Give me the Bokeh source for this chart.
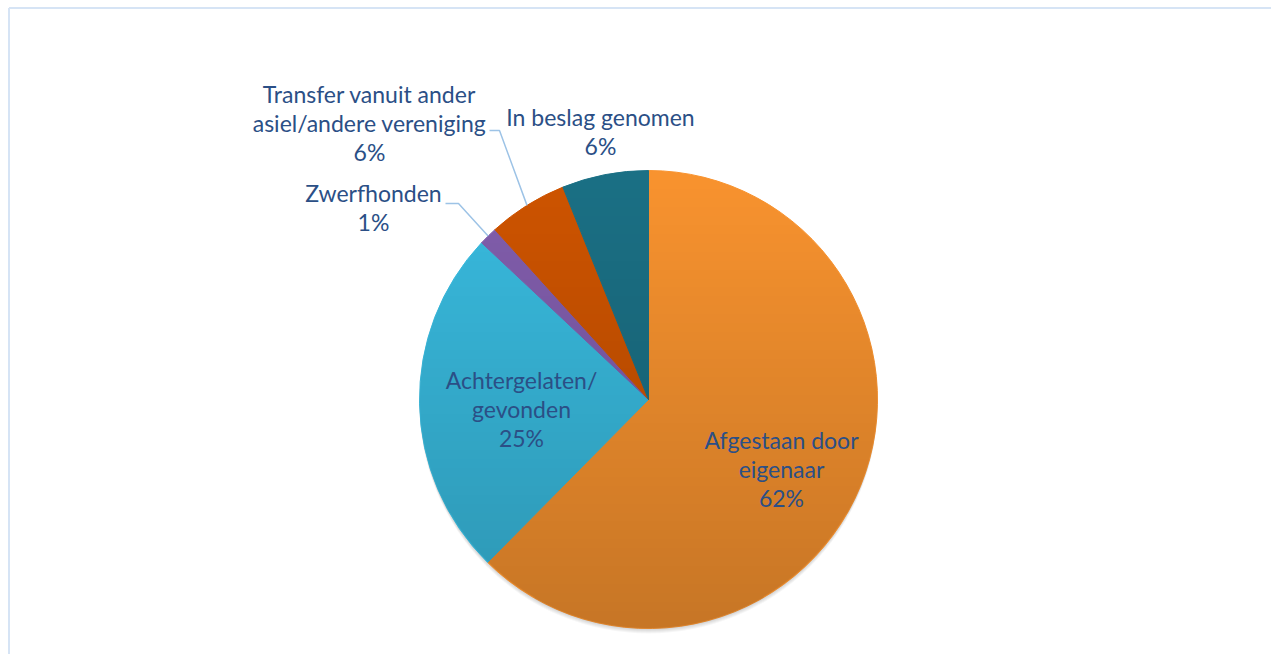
import numpy as np
from bokeh.plotting import figure
from bokeh.models import Range1d, ColumnDataSource
from bokeh.core.properties import value
from bokeh.embed import file_html
from bokeh.resources import INLINE

# ---- data ----
categories = ["Afgestaan door\neigenaar",
              "Achtergelaten/\ngevonden",
              "Zwerfhonden",
              "Transfer vanuit ander\nasiel/andere vereniging",
              "In beslag genomen"]
values = [62.4, 24.6, 1.3, 5.6, 6.1]
colors = ["#F8932F", "#39BBDF", "#825EAD", "#CE5400", "#1B7085"]

# ---- layout (page pixels) ----
W, H = 1271, 654
CX, CY, R = 648, 399, 229
TEXT_COLOR = "#2B4F86"
FONT = "Lato"
FS = "23px"
LINE_H = 29
TEXT_DY = -2
# label block centres (page px)
label_pos = [(781, 470), (521, 410), (373, 208.5), (369, 124), (600, 132.5)]
# leader elbows (page px) for outside labels: index -> (start, elbow)
leaders = {2: ((445, 203), (458, 203)), 3: ((489, 130), (499, 130))}


def Y(py):
    return -py


p = figure(width=W, height=H, output_backend="svg", toolbar_location=None,
           x_range=Range1d(0, W), y_range=Range1d(-H, 0),
           min_border=0)
p.axis.visible = False
p.grid.visible = False
p.outline_line_color = None
p.background_fill_color = "white"
p.border_fill_color = "white"

total = float(sum(values))
frac = np.array(values) / total
cum = np.concatenate([[0], np.cumsum(frac)])
start = np.pi / 2 - 2 * np.pi * cum[:-1]
end = np.pi / 2 - 2 * np.pi * cum[1:]
mid = (cum[:-1] + cum[1:]) / 2 * 2 * np.pi  # clockwise from top

# soft shadow
for k in range(1, 6):
    p.circle(x=[CX], y=[Y(CY + k)], radius=R, fill_color="black",
             fill_alpha=0.035, line_color=None)

src = ColumnDataSource(dict(start=start, end=end, color=colors,
                            x=[CX] * len(values), y=[Y(CY)] * len(values)))
p.wedge(x="x", y="y", radius=R, start_angle="start", end_angle="end",
        direction="clock", fill_color="color", line_color="color",
        line_width=1, source=src)

# vertical gradient shading overlay
n = 460
step = 2 * R / n
xs = CX - R + (np.arange(n) + 0.5) * step
ys_page = CY + R - (np.arange(n) + 0.5) * step  # row 0 = bottom
XX, YY = np.meshgrid(xs, ys_page)
d = np.sqrt((XX - CX) ** 2 + (YY - CY) ** 2)
edge = np.clip(R - d + 0.5, 0, 1)
t = (YY - (CY - R)) / (2 * R)
alpha = (0.2 * t * edge * 255).astype(np.uint8)
img = np.zeros((n, n), dtype=np.uint32)
view = img.view(dtype=np.uint8).reshape((n, n, 4))
view[:, :, 3] = alpha
p.image_rgba(image=[img], x=CX - R, y=Y(CY + R), dw=2 * R, dh=2 * R)

# leader lines
for i, (s, e) in leaders.items():
    ex = CX + R * np.sin(mid[i])
    ey = CY - R * np.cos(mid[i])
    p.line(x=[s[0], e[0], ex], y=[Y(s[1]), Y(e[1]), Y(ey)],
           line_color="#9DC3E6", line_width=1.5)

# labels
tx, ty, tt = [], [], []
for i, cat in enumerate(categories):
    pct = "%d%%" % int(round(frac[i] * 100))
    lines = cat.split("\n") + [pct]
    bx, by = label_pos[i]
    top = by - (len(lines) - 1) * LINE_H / 2 + TEXT_DY
    for j, ln in enumerate(lines):
        tx.append(bx)
        ty.append(Y(top + j * LINE_H))
        tt.append(ln)
p.text(x=tx, y=ty, text=tt, text_align="center", text_baseline="middle",
       text_color=TEXT_COLOR, text_font=value(FONT), text_font_size=value(FS))

# chart border (left and top visible)
p.line(x=[8.5, 8.5], y=[Y(H), Y(7.5)], line_color="#D6E4F5", line_width=2)
p.line(x=[8.5, W], y=[Y(7.5), Y(7.5)], line_color="#D6E4F5", line_width=2)

open("out.html", "w").write(file_html(p, INLINE))
